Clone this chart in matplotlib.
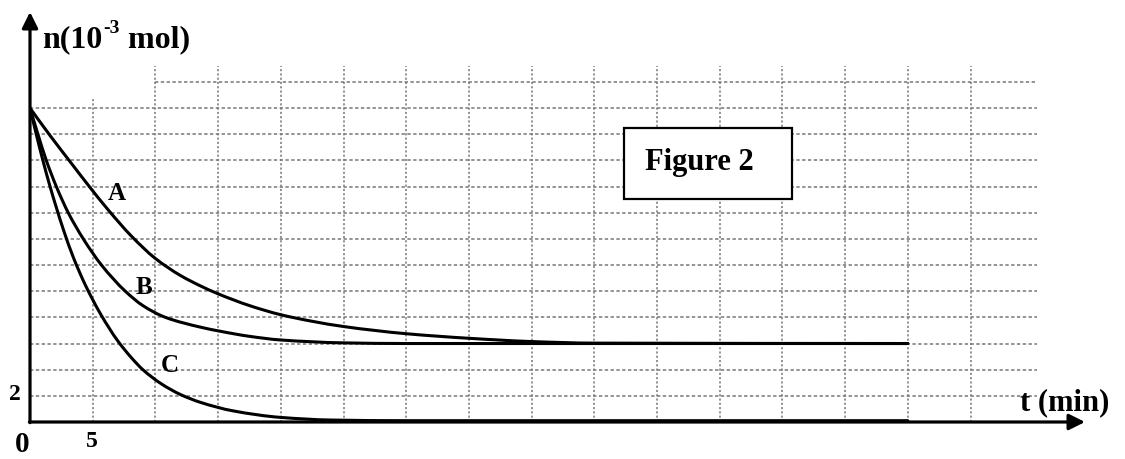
import matplotlib
matplotlib.use('Agg')
import matplotlib.pyplot as plt
import numpy as np
from matplotlib.patches import Rectangle, PathPatch
from matplotlib.path import Path

# ---------------- data ----------------
t_A = [0, 1.6, 3.2, 4.65, 6.25, 8.1, 10.0, 12.0, 13.6, 15.0, 17.5, 20.0, 22.5, 25.0, 30.0, 35.0, 40.0, 45.0, 70.0]
n_A = [24, 21.9, 19.9, 18.1, 16.2, 14.2, 12.5, 11.2, 10.4, 9.8, 8.9, 8.2, 7.7, 7.3, 6.75, 6.4, 6.15, 6.03, 6.0]

t_B = [0, 0.6, 1.3, 2.1, 3.05, 4.25, 5.7, 7.6, 9.0, 10.8, 13.6, 15.1, 17.5, 20.0, 25.0, 30.0, 70.0]
n_B = [24, 22.1, 20, 18, 16, 14, 12, 10, 8.9, 8, 7.25, 6.95, 6.55, 6.27, 6.05, 6.0, 6.0]

t_C = [0, 0.5, 1.0, 1.6, 2.1, 2.7, 3.45, 4.4, 5.6, 7.0, 8.1, 9.0, 10.5, 12.0, 13.6, 16.2, 20.0, 24.0, 30.0, 70.0]
n_C = [24, 22.0, 20.1, 18.0, 16.4, 14.6, 12.6, 10.5, 8.3, 6.2, 4.9, 4.0, 2.9, 2.1, 1.5, 0.85, 0.35, 0.15, 0.1, 0.1]

curve_names = ['A', 'B', 'C']
label_t = [6.2, 8.4, 10.4]
label_n = [17.0, 9.8, 3.8]

x_grid = list(range(5, 80, 5))
y_grid = list(range(2, 27, 2))

# ---------------- figure geometry ----------------
W, H = 1125, 459
fig = plt.figure(figsize=(W / 100, H / 100), dpi=100)
fig.patch.set_facecolor('white')
x0, y0 = 30, 422          # pixel position of origin
px_min, px_unit = 12.54, 13.08
right_px, top_px = 1090, 10
xmax = (right_px - x0) / px_min
ymax = (y0 - top_px) / px_unit
ax = fig.add_axes([x0 / W, (H - y0) / H, (right_px - x0) / W, (y0 - top_px) / H])
ax.set_xlim(0, xmax)
ax.set_ylim(0, ymax)
ax.axis('off')

# grid
gcol = '#777777'
for y in y_grid:
    xs = 10 if y == 26 else 0
    ax.plot([xs, 80.3], [y, y], color=gcol, lw=1.1, ls=(0, (2.2, 1.6)), zorder=1)
for x in x_grid:
    top = 24.8 if x == 5 else 27.2
    ax.plot([x, x], [0, top], color=gcol, lw=1.1, ls=(0, (1.4, 1.4)), zorder=1)


def smooth_path(t, n):
    """Monotone cubic (Fritsch-Carlson) Bezier path through the read points."""
    x = np.asarray(t, float)
    y = np.asarray(n, float)
    h = np.diff(x)
    d = np.diff(y) / h
    m = np.zeros_like(x)
    m[0], m[-1] = d[0], d[-1]
    for i in range(1, len(x) - 1):
        if d[i - 1] * d[i] <= 0:
            m[i] = 0.0
        else:
            w1 = 2 * h[i] + h[i - 1]
            w2 = h[i] + 2 * h[i - 1]
            m[i] = (w1 + w2) / (w1 / d[i - 1] + w2 / d[i])
    verts = [(x[0], y[0])]
    codes = [Path.MOVETO]
    for i in range(len(x) - 1):
        verts += [(x[i] + h[i] / 3, y[i] + m[i] * h[i] / 3),
                  (x[i + 1] - h[i] / 3, y[i + 1] - m[i + 1] * h[i] / 3),
                  (x[i + 1], y[i + 1])]
        codes += [Path.CURVE4] * 3
    return Path(verts, codes)


# curves
for t, n in [(t_A, n_A), (t_B, n_B), (t_C, n_C)]:
    ax.add_patch(PathPatch(smooth_path(t, n), fill=False, edgecolor='black', lw=2.2,
                           capstyle='round', joinstyle='round', zorder=3))

serif = ['Liberation Serif', 'DejaVu Serif']
for name, lt, ln in zip(curve_names, label_t, label_n):
    ax.text(lt, ln, name, fontsize=18, family=serif, weight='bold', ha='left', va='baseline', zorder=4)

# axes arrows
arrow = dict(arrowstyle='-|>', lw=2.3, color='black', mutation_scale=24, shrinkA=0, shrinkB=0)
ax.annotate('', xy=(0, (y0 - 12) / px_unit), xytext=(0, -0.05), arrowprops=arrow, annotation_clip=False, zorder=5)
ax.annotate('', xy=((1085 - x0) / px_min, 0), xytext=(-0.05, 0), arrowprops=arrow, annotation_clip=False, zorder=5)

# ---------------- texts ----------------
def ptext(x, y, s, size):
    return fig.text(x / W, 1 - y / H, s, fontsize=size, family=serif, weight='bold',
                    ha='left', va='baseline', zorder=6)

r = fig.canvas.get_renderer()
t1 = ptext(42, 47, 'n(10', 23)
bb1 = t1.get_window_extent(r)
t2 = ptext(bb1.x1 + 1, 33, '-3', 14)
bb2 = t2.get_window_extent(r)
ptext(bb2.x1, 47, ' mol)', 23)

ptext(1020, 410, 't (min)', 22)
ptext(9, 400, '2', 17)
ptext(86, 447, '5', 17)
ptext(15, 452, '0', 21)

# Figure 2 box
box = Rectangle((624 / W, 1 - 199 / H), (792 - 624) / W, (199 - 128) / H, transform=fig.transFigure,
                facecolor='white', edgecolor='black', lw=1.6, zorder=5)
fig.add_artist(box)
ptext(645, 170, 'Figure 2', 22)

fig.savefig('out.png', dpi=100)
